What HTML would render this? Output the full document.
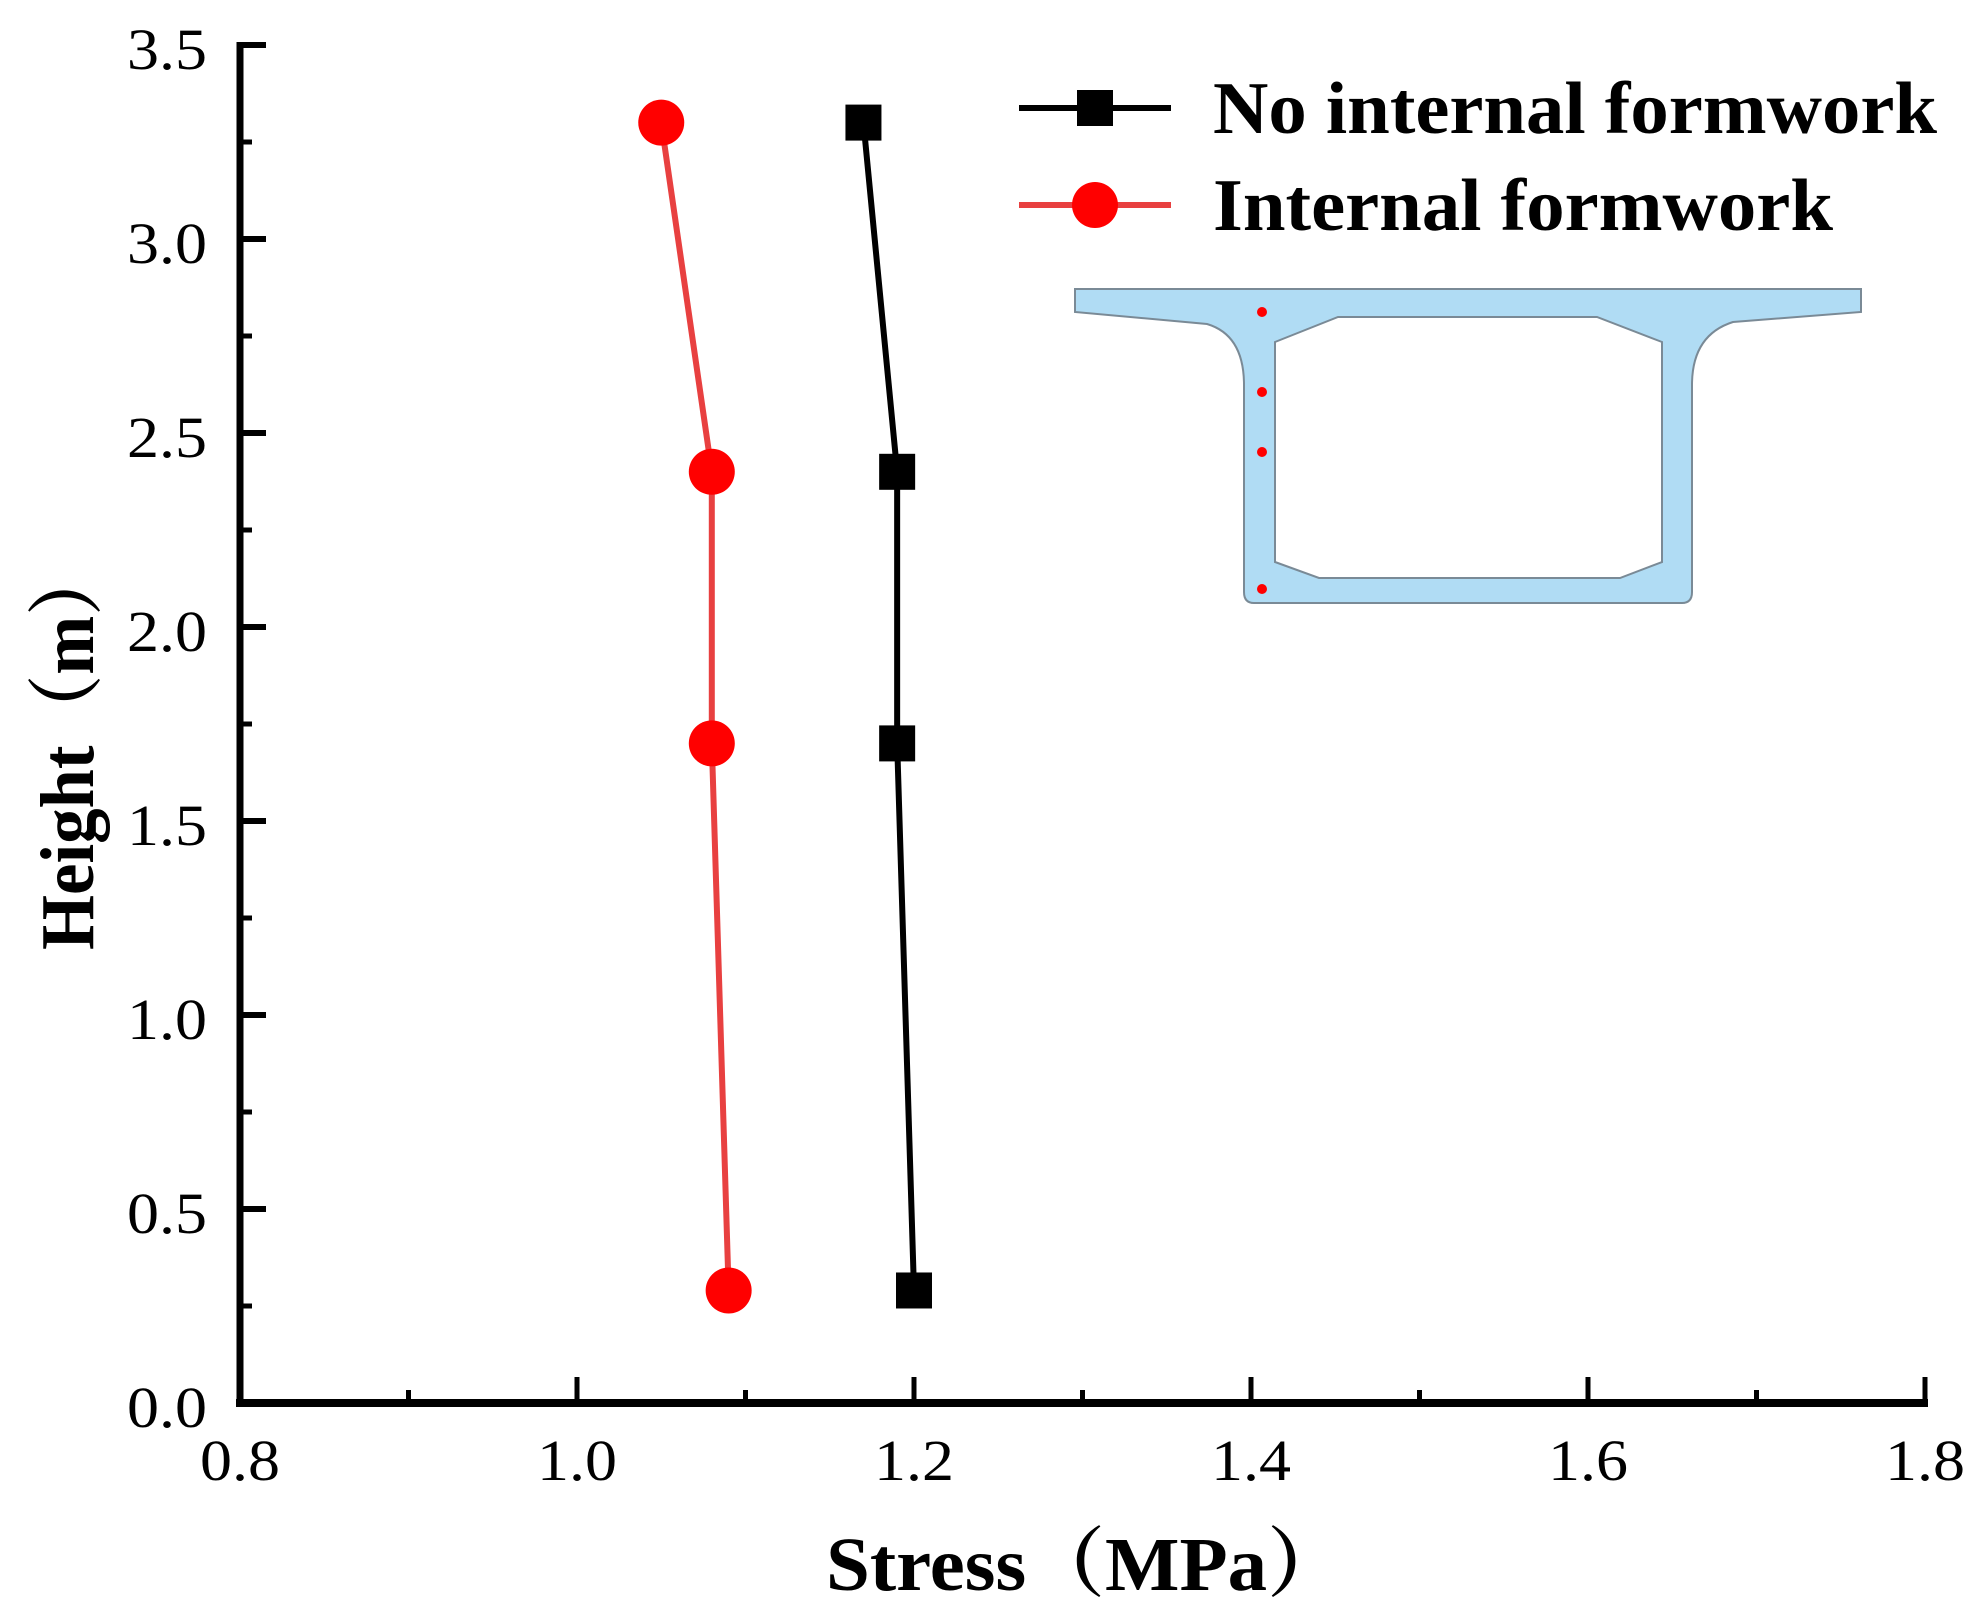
<!DOCTYPE html>
<html><head><meta charset="utf-8"><style>
html,body{margin:0;padding:0;background:#fff;}
svg{display:block;}
text{font-family:"Liberation Serif","Noto Serif CJK SC",serif;}
</style></head><body>
<svg id="chart" width="1977" height="1602" viewBox="0 0 1977 1602" xmlns="http://www.w3.org/2000/svg">
<g id="axes"></g>
<g id="series"></g>
<g>
  <line x1="1019" y1="108" x2="1171" y2="108" stroke="#000" stroke-width="6"/>
  <rect x="1077" y="90" width="36" height="36" fill="#000"/>
  <text x="1213" y="133" font-size="74" font-weight="bold" textLength="724" lengthAdjust="spacingAndGlyphs">No internal formwork</text>
  <line x1="1019" y1="205" x2="1171" y2="205" stroke="#e84040" stroke-width="6"/>
  <circle cx="1095" cy="205" r="23" fill="#ff0000"/>
  <text x="1213" y="230" font-size="74" font-weight="bold" textLength="620" lengthAdjust="spacingAndGlyphs">Internal formwork</text>
</g>
<g>
  <path fill="#b0dcf4" stroke="#7a8a96" stroke-width="2" fill-rule="evenodd"
    d="M1075,289 L1861,289 L1861,312 L1733,322 Q1692,335 1692,385 L1692,592 Q1692,603 1682,603 L1254,603 Q1244,603 1244,592 L1244,385 Q1244,335 1207,324 L1075,312 Z
       M1275,342 L1338,317 L1597,317 L1662,342 L1662,562 L1620,578 L1319,578 L1275,562 Z"/>
  <circle cx="1262" cy="312" r="5" fill="#ff0000"/>
  <circle cx="1262" cy="392" r="5" fill="#ff0000"/>
  <circle cx="1262" cy="452" r="5" fill="#ff0000"/>
  <circle cx="1262" cy="589" r="5" fill="#ff0000"/>
</g>
<text x="826" y="1590" font-size="76" font-weight="bold" textLength="520" lengthAdjust="spacingAndGlyphs">Stress（MPa）</text>
<text transform="translate(93,950) rotate(-90)" font-size="76" font-weight="bold" textLength="405" lengthAdjust="spacingAndGlyphs">Height（m）</text>
</svg>
<script>
const xTicks=[0.8,1.0,1.2,1.4,1.6,1.8];
const xTickLabels=["0.8","1.0","1.2","1.4","1.6","1.8"];
const yTicks=[0,0.5,1.0,1.5,2.0,2.5,3.0,3.5];
const yTickLabels=["0.0","0.5","1.0","1.5","2.0","2.5","3.0","3.5"];
const heights=[3.3,2.4,1.7,0.29];
const stressNoFormwork=[1.17,1.19,1.19,1.2];
const stressFormwork=[1.05,1.08,1.08,1.09];

const X0=240,X1=1925,Y0=1403,Y1=45;
function sx(v){return X0+(v-0.8)/(1.8-0.8)*(X1-X0);}
function sy(v){return Y0-(v-0)/(3.5-0)*(Y0-Y1);}
const NS='http://www.w3.org/2000/svg';
function mk(tag,attrs,parent){const e=document.createElementNS(NS,tag);for(const k in attrs)e.setAttribute(k,attrs[k]);parent.appendChild(e);return e;}
const axes=document.getElementById('axes');
const series=document.getElementById('series');

let yl=mk('line',{x1:X0,y1:Y1-3,x2:X0,y2:Y0+4,stroke:'#000','stroke-width':7},axes);


let xl=mk('line',{x1:X0-4,y1:Y0,x2:X1+3,y2:Y0,stroke:'#000','stroke-width':8},axes);



xTicks.forEach((v,i)=>{
  const x=sx(v);
  let t=mk('line',{x1:x,y1:Y0,x2:x,y2:Y0-26,stroke:'#000','stroke-width':5},axes);
  
  
  if(i<xTicks.length-1){
    const m=sx(v+0.1);
    let mt=mk('line',{x1:m,y1:Y0,x2:m,y2:Y0-13,stroke:'#000','stroke-width':5},axes);
    
    
  }
  let lb=mk('text',{x:x-40,y:1480,'font-size':58,textLength:80,lengthAdjust:'spacingAndGlyphs'},axes);
  lb.textContent=xTickLabels[i];
  
  
});
yTicks.forEach((v,i)=>{
  const y=sy(v);
  let t=mk('line',{x1:X0,y1:y,x2:X0+26,y2:y,stroke:'#000','stroke-width':6},axes);
  
  
  if(i<yTicks.length-1){
    const m=sy(v+0.25);
    let mt=mk('line',{x1:X0,y1:m,x2:X0+12,y2:m,stroke:'#000','stroke-width':5},axes);
    
    
  }
  let lb=mk('text',{x:127,y:y+24,'font-size':58,textLength:80,lengthAdjust:'spacingAndGlyphs'},axes);
  lb.textContent=yTickLabels[i];
  
  
});

function pts(xs){return xs.map((v,i)=>sx(v)+','+sy(heights[i])).join(' ');}
let pl1=mk('polyline',{points:pts(stressNoFormwork),fill:'none',stroke:'#000','stroke-width':6},series);


let pl2=mk('polyline',{points:pts(stressFormwork),fill:'none',stroke:'#e84040','stroke-width':6},series);


stressNoFormwork.forEach((v,i)=>{
  let r=mk('rect',{x:sx(v)-18,y:sy(heights[i])-18,width:36,height:36,fill:'#000'},series);
  
  
});
stressFormwork.forEach((v,i)=>{
  let c=mk('circle',{cx:sx(v),cy:sy(heights[i]),r:23,fill:'#ff0000'},series);
  
  
});
</script>
</body></html>
